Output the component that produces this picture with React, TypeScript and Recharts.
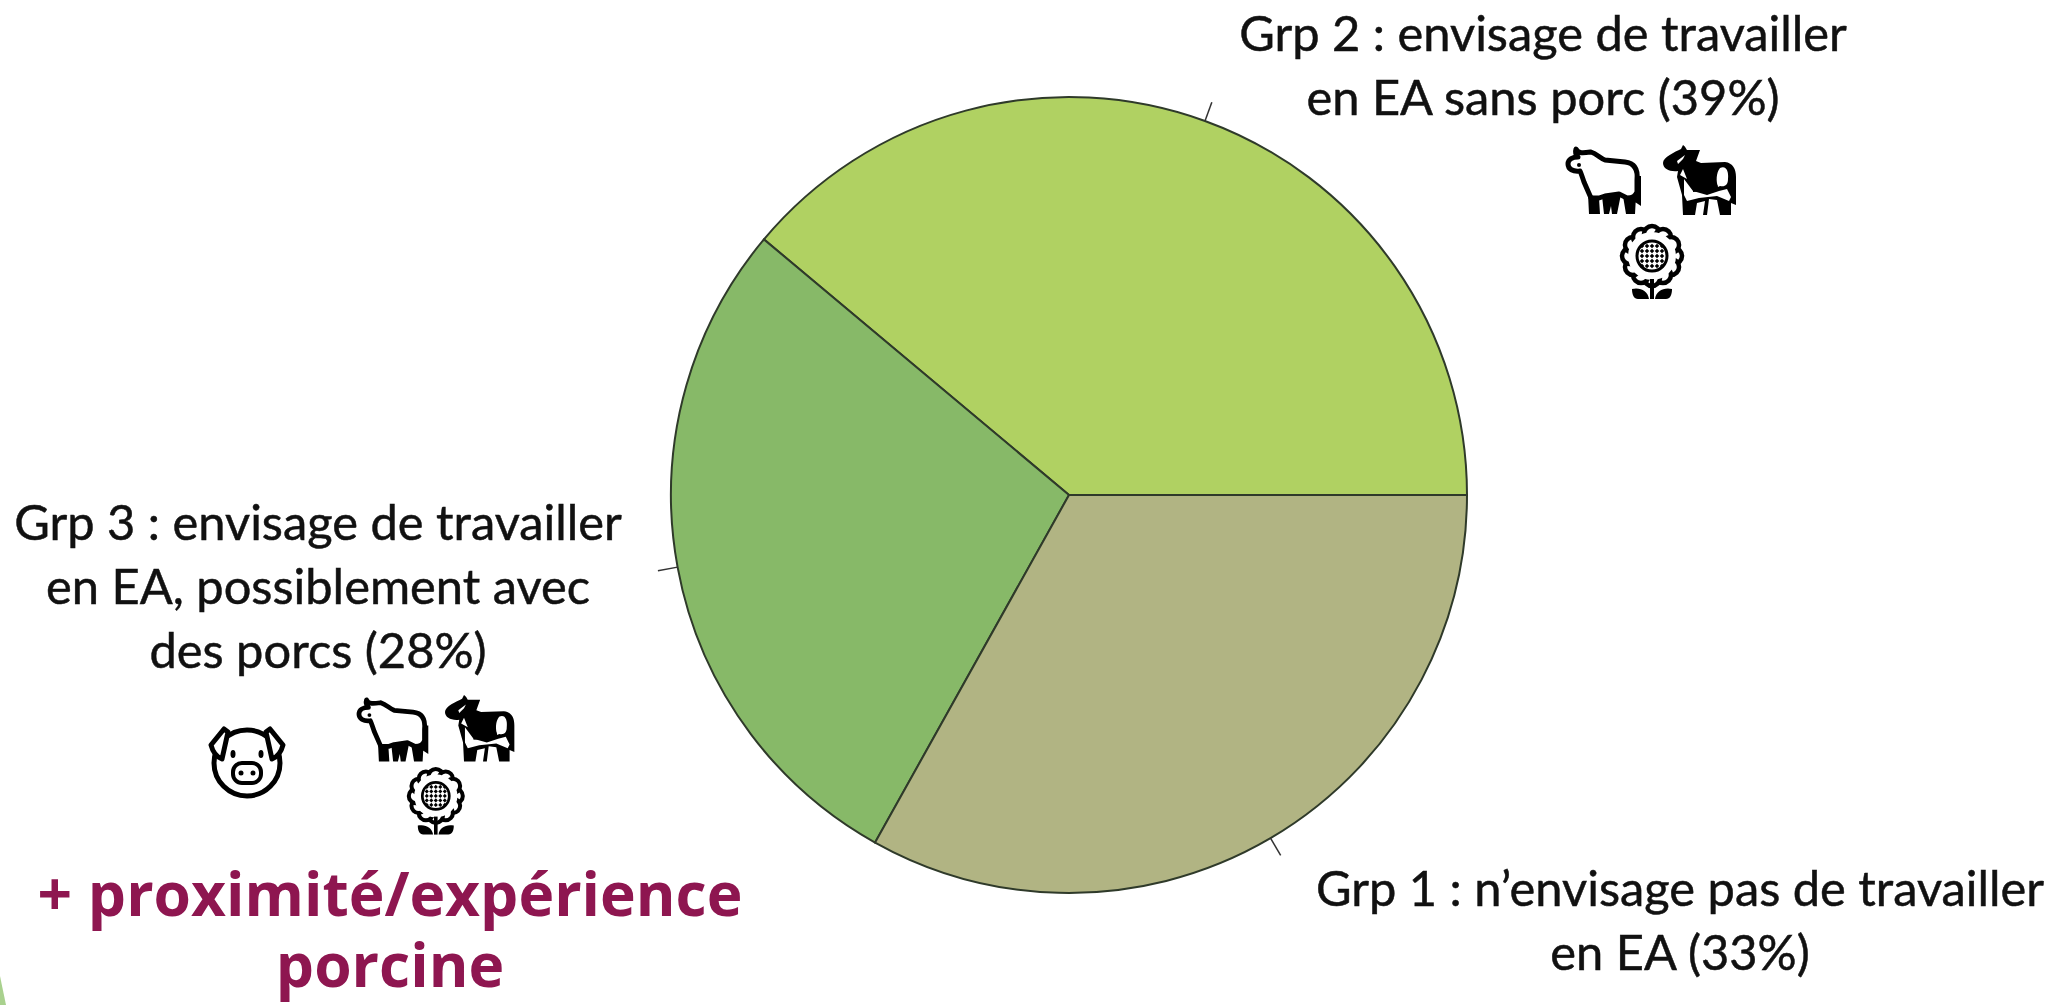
import React from 'react';
import { PieChart, Pie, Cell } from 'recharts';

const groupNames = ['Grp 2', 'Grp 3', 'Grp 1'];
const groupShares = [38.9, 28, 33.1];
const groupColors = ['#b0d162', '#87b968', '#b1b483'];
const group2Lines = ['Grp 2 : envisage de travailler', 'en EA sans porc (39%)'];
const group3Lines = ['Grp 3 : envisage de travailler', 'en EA, possiblement avec', 'des porcs (28%)'];
const group1Lines = ['Grp 1 : n’envisage pas de travailler', 'en EA (33%)'];
const noteLines = ['+ proximité/expérience', 'porcine'];
const rows = groupNames.map((name, i) => ({ name, value: groupShares[i] }));

const FONT = 'Lato, Carlito, sans-serif';

function TextBlock({ lines, cx, y, step, size, fill = '#111', weight = 400, family = FONT, outline = 0.5 }: any) {
  return (
    <text textAnchor="middle" fontFamily={family} fontSize={size} fontWeight={weight} fill={fill} stroke={fill} strokeWidth={outline}>
      {lines.map((l: string, i: number) => (
        <tspan key={i} x={cx} y={y + i * step}>{l}</tspan>
      ))}
    </text>
  );
}

function Ox({ x, y, s = 1 }: any) {
  return (
    <g transform={`translate(${x} ${y}) scale(${s})`}>
      <path d="M9 3 C11 8 17 7 24 6 C30 8 33 12 38 14 L58 16 C68 17 71 24 70 34 L70 46 C68 50 66 52 60 52 L52 48 L38 50 L32 52 L24 52 L17 36 C15 30 14 27 13 25 C6 26 1 23 1 18 C1 13 6 11 11 11 C9 9 8 6 9 3 Z"
        fill="#fff" stroke="#000" strokeWidth="5" strokeLinejoin="round" />
      <path d="M21 48 L32 52 L33 68 L22 68 Z M35 50 L54 48 L50 68 L45 68 L44 60 L42 68 L37 68 Z M56 50 L69 50 L68 68 L59 68 Z M70 30 L74 30 L74 60 L68 56 Z" fill="#000" />
      <circle cx="12" cy="19" r="2" fill="#000" />
    </g>
  );
}

function Cow({ x, y, s = 1 }: any) {
  return (
    <g transform={`translate(${x} ${y}) scale(${s})`}>
      <path d="M20 0 C23 2 23 4 24 5 L37 5 L33 16 L38 18 L62 17 C70 18 73 24 73 32 L73 60 L68 58 L68 70 L57 70 L54 55 L46 54 L44 70 L40 70 L42 56 L34 58 L32 70 L20 70 L19 50 L14 32 L15 26 C7 27 0 24 0 18 C0 12 12 7 18 4 Z" fill="#000" />
      <path d="M57 23 C63 20 66 26 65 34 C65 40 62 42 57 41 L55 42 C53 36 53 28 57 23 Z M21 34 L30 46 L44 50 L56 46 L64 44 L68 52 L66 56 L54 51 L36 53 L24 56 L21 50 Z M14 16 L22 10 L20 14 L15 19 Z M24 34 L17 30 L20 24 Z" fill="#fff" />
      <circle cx="52" cy="41" r="2.5" fill="#000" />
      <path d="M30 36 L42 46 L30 47 Z" fill="#000" />
    </g>
  );
}

const petalAngles = [0, 30, 60, 90, 120, 150, 180, 210, 240, 270, 300, 330];
const seedDots = [-10, -5, 0, 5, 10];

function Flower({ x, y, s = 1 }: any) {
  return (
    <g transform={`translate(${x} ${y}) scale(${s})`}>
      {petalAngles.map((a) => (
        <circle key={a} cx={32 + 22 * Math.cos((a * Math.PI) / 180)} cy={31 + 22 * Math.sin((a * Math.PI) / 180)} r="8" fill="#fff" stroke="#000" strokeWidth="4.5" />
      ))}
      <circle cx="32" cy="31" r="24" fill="#fff" />
      <circle cx="32" cy="31" r="15" fill="#fff" stroke="#000" strokeWidth="3" />
      {seedDots.map((a) => seedDots.map((b) => (
        <rect key={`${a}${b}`} x={30.4 + a} y={29.4 + b} width="3.2" height="3.2" fill="#000" transform={`rotate(45 ${32 + a} ${31 + b})`} />
      )))}
      <path d="M30 54 L34 54 L34 74 L30 74 Z" fill="#000" />
      <path d="M12 64 C20 62 28 66 29 74 L18 74 C14 74 12 70 12 64 Z M52 64 C44 62 36 66 35 74 L46 74 C50 74 52 70 52 64 Z" fill="#000" />
    </g>
  );
}

function Pig({ x, y }: any) {
  return (
    <g transform={`translate(${x} ${y})`} fill="none" stroke="#000">
      <ellipse cx="38" cy="38" rx="33" ry="33" fill="#fff" strokeWidth="5" />
      <path d="M15 4 L2 20 C4 28 8 32 13 34 L19 7 Z M61 4 L74 20 C72 28 68 32 63 34 L57 7 Z" fill="#fff" strokeWidth="5" strokeLinejoin="round" />
      <rect x="24" y="38" width="28" height="20" rx="9" strokeWidth="4" />
      <circle cx="32" cy="48" r="2.5" fill="#000" stroke="none" />
      <circle cx="44" cy="48" r="2.5" fill="#000" stroke="none" />
      <ellipse cx="24" cy="29" rx="2.5" ry="4" fill="#000" stroke="none" />
      <ellipse cx="52" cy="29" rx="2.5" ry="4" fill="#000" stroke="none" />
    </g>
  );
}

export default function App() {
  return (
    <div style={{ position: 'absolute', left: 0, top: 0, width: 2054, height: 1005, background: '#fff', overflow: 'hidden' }}>
      <PieChart width={2054} height={1005} margin={{ top: 0, right: 0, bottom: 0, left: 0 }}>
        <path d="M0 976 L6 1005 L0 1005 Z" fill="#a9d18e" />
        <Pie
          data={rows}
          dataKey="value"
          nameKey="name"
          cx={1069}
          cy={495}
          outerRadius={398}
          startAngle={0}
          endAngle={360}
          stroke="#2f3a2a"
          strokeWidth={2}
          isAnimationActive={false}
          label={() => null}
          labelLine={(p: any) => {
            const [a, b] = p.points;
            const len = Math.hypot(b.x - a.x, b.y - a.y);
            const ex = a.x + ((b.x - a.x) / len) * 20;
            const ey = a.y + ((b.y - a.y) / len) * 20;
            return <line x1={a.x} y1={a.y} x2={ex} y2={ey} stroke="#333" strokeWidth={1.5} />;
          }}
        >
          {rows.map((r, i) => <Cell key={r.name} fill={groupColors[i]} />)}
        </Pie>
        <TextBlock lines={group2Lines} cx={1543} y={51} step={64} size={48.8} />
        <TextBlock lines={group3Lines} cx={318} y={540} step={64} size={48.8} />
        <TextBlock lines={group1Lines} cx={1680} y={906} step={64} size={48.8} />
        <TextBlock lines={noteLines} cx={390} y={916} step={71} size={60.5} fill="#8e1650" weight={700} family="'Open Sans', sans-serif" outline={0} />
        <Ox x={1567} y={146} s={1} />
        <Cow x={1663} y={145} s={1} />
        <Flower x={1620} y={225} s={1} />
        <Pig x={209} y={725} />
        <Ox x={358} y={697} s={0.95} />
        <Cow x={445} y={695} s={0.95} />
        <Flower x={407} y={768} s={0.9} />
      </PieChart>
    </div>
  );
}
